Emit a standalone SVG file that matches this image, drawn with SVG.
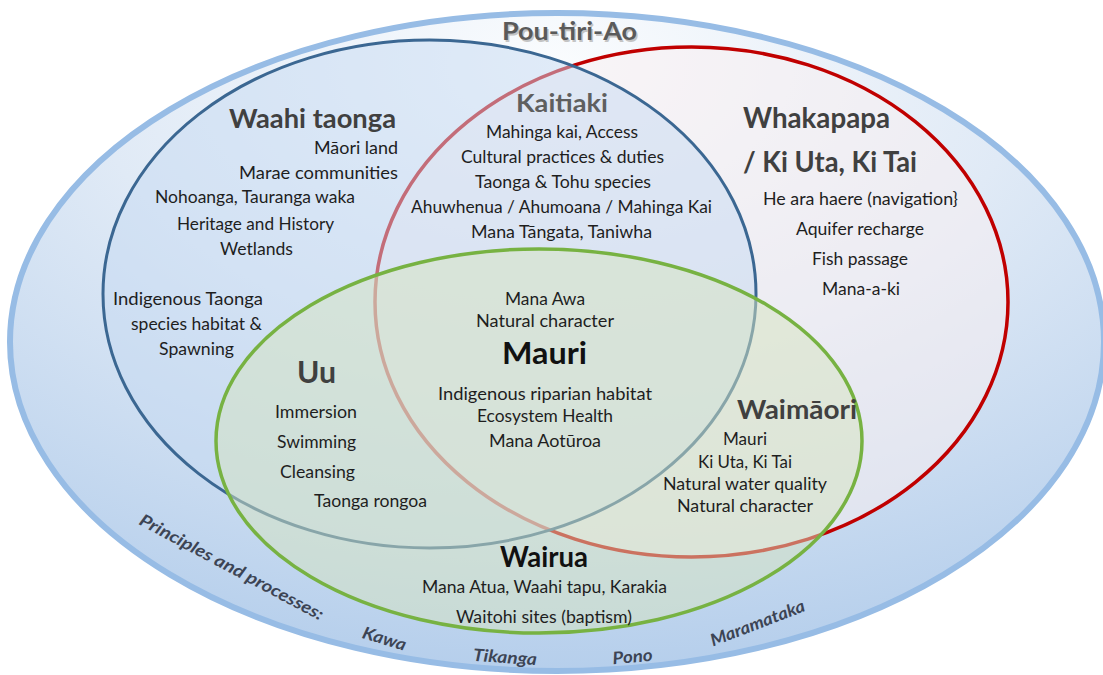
<svg xmlns="http://www.w3.org/2000/svg" width="1103" height="675" viewBox="0 0 1103 675">
<defs>
<radialGradient id="bg" cx="0.5" cy="0.08" r="0.95">
<stop offset="0" stop-color="#fafcfe"/>
<stop offset="0.45" stop-color="#e0eaf6"/>
<stop offset="1" stop-color="#b3cdeb"/>
</radialGradient>
<style>
.t{font-family:Lato,"Liberation Sans",sans-serif;font-size:17px;fill:#1e1e1e}
.h{font-family:Lato,"Liberation Sans",sans-serif;font-weight:700;fill:#404040}
.k{font-family:Lato,"Liberation Sans",sans-serif;font-weight:700;fill:#111111}
.p{font-family:Lato,"Liberation Sans",sans-serif;font-weight:700;font-style:italic;font-size:17px;fill:#3c4454}
</style>
</defs>
<rect width="1103" height="675" fill="#ffffff"/>
<g id="pou-tiri-ao">
<ellipse cx="557" cy="342" rx="547" ry="329" fill="url(#bg)" stroke="#97bce5" stroke-width="6"/>
</g>
<g id="whakapapa-circle">
<ellipse cx="691.5" cy="302" rx="316.5" ry="255" fill="#f7eef1" fill-opacity="0.55" stroke="#c00000" stroke-width="3.5"/>
</g>
<g id="waahi-taonga-circle">
<ellipse cx="429.5" cy="294" rx="326.5" ry="254" fill="#c6d9f1" fill-opacity="0.5" stroke="#3b6792" stroke-width="3"/>
</g>
<g id="wairua-circle">
<ellipse cx="539" cy="441" rx="323" ry="192" fill="#d5e4c0" fill-opacity="0.5" stroke="#77b242" stroke-width="3.5"/>
</g>
<g id="connectors"></g>
<g id="pou-tiri-ao-labels">
<text class="h" x="503.5" y="41.5" font-size="24" textLength="135" lengthAdjust="spacingAndGlyphs" style="fill:#c4c4c4">Pou-tiri-Ao</text>
<text class="h" x="502" y="40" font-size="24" textLength="135" lengthAdjust="spacingAndGlyphs" style="fill:#5a5a5a">Pou-tiri-Ao</text>
<text class="p" transform="translate(138,524) rotate(28)" x="0" y="0" textLength="206" lengthAdjust="spacingAndGlyphs">Principles and processes:</text>
<text class="p" transform="translate(384.5,638.5) rotate(17)" x="0" y="6" text-anchor="middle" textLength="45" lengthAdjust="spacingAndGlyphs">Kawa</text>
<text class="p" transform="translate(505,657) rotate(4)" x="0" y="6" text-anchor="middle" textLength="64" lengthAdjust="spacingAndGlyphs">Tikanga</text>
<text class="p" transform="translate(632.5,656.5) rotate(-5)" x="0" y="6" text-anchor="middle" textLength="40" lengthAdjust="spacingAndGlyphs">Pono</text>
<text class="p" transform="translate(757.5,623) rotate(-21)" x="0" y="6" text-anchor="middle" textLength="100" lengthAdjust="spacingAndGlyphs">Maramataka</text>
</g>
<g id="waahi-taonga">
<text class="h" x="229" y="128" font-size="26" textLength="167" lengthAdjust="spacingAndGlyphs">Waahi taonga</text>
<text class="t" x="314" y="154" textLength="84" lengthAdjust="spacingAndGlyphs">Māori land</text>
<text class="t" x="239" y="179" textLength="159" lengthAdjust="spacingAndGlyphs">Marae communities</text>
<text class="t" x="155" y="203" textLength="200" lengthAdjust="spacingAndGlyphs">Nohoanga, Tauranga waka</text>
<text class="t" x="177" y="230" textLength="157" lengthAdjust="spacingAndGlyphs">Heritage and History</text>
<text class="t" x="220" y="255" textLength="73" lengthAdjust="spacingAndGlyphs">Wetlands</text>
<text class="t" x="113" y="305" textLength="150" lengthAdjust="spacingAndGlyphs">Indigenous Taonga</text>
<text class="t" x="131" y="330" textLength="131" lengthAdjust="spacingAndGlyphs">species habitat &amp;</text>
<text class="t" x="159" y="355" textLength="75" lengthAdjust="spacingAndGlyphs">Spawning</text>
</g>
<g id="kaitiaki">
<text class="h" x="516" y="112" font-size="25" textLength="92" lengthAdjust="spacingAndGlyphs" style="fill:#5f5f5f">Kaitiaki</text>
<text class="t" x="486" y="138" textLength="152" lengthAdjust="spacingAndGlyphs">Mahinga kai, Access</text>
<text class="t" x="461" y="163" textLength="203" lengthAdjust="spacingAndGlyphs">Cultural practices &amp; duties</text>
<text class="t" x="475" y="188" textLength="176" lengthAdjust="spacingAndGlyphs">Taonga &amp; Tohu species</text>
<text class="t" x="411" y="213" textLength="301" lengthAdjust="spacingAndGlyphs">Ahuwhenua / Ahumoana / Mahinga Kai</text>
<text class="t" x="471" y="238" textLength="181" lengthAdjust="spacingAndGlyphs">Mana Tāngata, Taniwha</text>
</g>
<g id="whakapapa">
<text class="h" x="743" y="128" font-size="28" textLength="147" lengthAdjust="spacingAndGlyphs">Whakapapa</text>
<text class="h" x="743" y="172" font-size="28" textLength="174" lengthAdjust="spacingAndGlyphs">/ Ki Uta, Ki Tai</text>
<text class="t" x="763" y="205" textLength="195" lengthAdjust="spacingAndGlyphs">He ara haere (navigation}</text>
<text class="t" x="796" y="235" textLength="128" lengthAdjust="spacingAndGlyphs">Aquifer recharge</text>
<text class="t" x="812" y="265" textLength="96" lengthAdjust="spacingAndGlyphs">Fish passage</text>
<text class="t" x="822" y="295" textLength="78" lengthAdjust="spacingAndGlyphs">Mana-a-ki</text>
</g>
<g id="mauri">
<text class="t" x="505" y="305" textLength="80" lengthAdjust="spacingAndGlyphs">Mana Awa</text>
<text class="t" x="476" y="327" textLength="138" lengthAdjust="spacingAndGlyphs">Natural character</text>
<text class="k" x="502" y="364" font-size="30" textLength="85" lengthAdjust="spacingAndGlyphs">Mauri</text>
<text class="t" x="438" y="400" textLength="214" lengthAdjust="spacingAndGlyphs">Indigenous riparian habitat</text>
<text class="t" x="477" y="422" textLength="136" lengthAdjust="spacingAndGlyphs">Ecosystem Health</text>
<text class="t" x="489" y="447" textLength="112" lengthAdjust="spacingAndGlyphs">Mana Aotūroa</text>
</g>
<g id="uu">
<text class="h" x="297" y="383" font-size="30" textLength="39" lengthAdjust="spacingAndGlyphs">Uu</text>
<text class="t" x="275" y="418" textLength="82" lengthAdjust="spacingAndGlyphs">Immersion</text>
<text class="t" x="277" y="448" textLength="79" lengthAdjust="spacingAndGlyphs">Swimming</text>
<text class="t" x="280" y="478" textLength="75" lengthAdjust="spacingAndGlyphs">Cleansing</text>
<text class="t" x="314" y="507" textLength="113" lengthAdjust="spacingAndGlyphs">Taonga rongoa</text>
</g>
<g id="waimaori">
<text class="h" x="737" y="419" font-size="26" textLength="120" lengthAdjust="spacingAndGlyphs">Waimāori</text>
<text class="t" x="723" y="445" textLength="44" lengthAdjust="spacingAndGlyphs">Mauri</text>
<text class="t" x="698" y="468" textLength="94" lengthAdjust="spacingAndGlyphs">Ki Uta, Ki Tai</text>
<text class="t" x="663" y="490" textLength="164" lengthAdjust="spacingAndGlyphs">Natural water quality</text>
<text class="t" x="677" y="512" textLength="136" lengthAdjust="spacingAndGlyphs">Natural character</text>
</g>
<g id="wairua">
<text class="k" x="500" y="567" font-size="28" textLength="88" lengthAdjust="spacingAndGlyphs">Wairua</text>
<text class="t" x="422" y="593" textLength="245" lengthAdjust="spacingAndGlyphs">Mana Atua, Waahi tapu, Karakia</text>
<text class="t" x="456" y="623" textLength="176" lengthAdjust="spacingAndGlyphs">Waitohi sites (baptism)</text>
</g>
</svg>
